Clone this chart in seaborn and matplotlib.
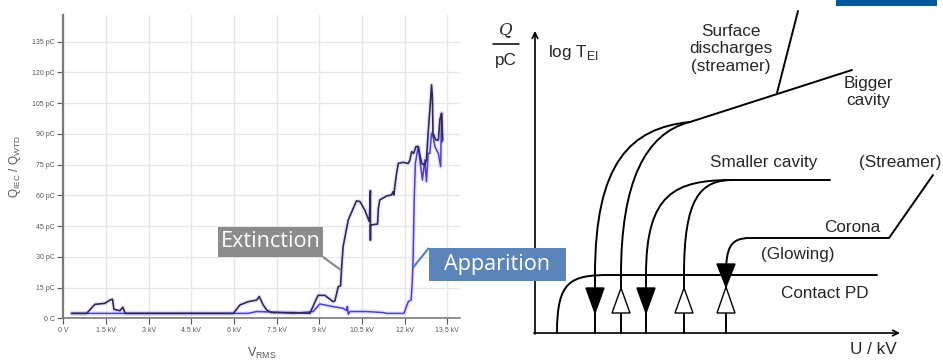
import numpy as np
import pandas as pd
import matplotlib
matplotlib.use("Agg")
import matplotlib.pyplot as plt
import seaborn as sns
from matplotlib.path import Path
from matplotlib.patches import PathPatch, Polygon, Rectangle

# ---------------- data: left chart ----------------
ext_kv = [0.29, 0.82, 1.11, 1.46, 1.64, 1.73, 1.78, 1.99, 2.09, 2.18, 5.98, 6.21, 6.50, 6.80,
          6.89, 7.03, 7.15, 7.32, 8.09, 8.67, 8.91, 8.96, 9.20, 9.49, 9.55, 9.67, 9.75, 9.79,
          9.84, 10.02, 10.31, 10.43, 10.60, 10.76, 10.80, 10.80, 10.80, 10.84, 11.05, 11.08,
          11.13, 11.37, 11.54, 11.60, 11.62, 11.72, 11.78, 11.95, 12.13, 12.19, 12.25, 12.32,
          12.40, 12.48, 12.60, 12.71, 12.77, 12.83, 12.89, 12.95, 12.98, 13.00, 13.10, 13.19,
          13.24, 13.30, 13.34]
ext_pc = [2.4, 2.4, 6.8, 7.3, 8.9, 9.3, 4.4, 3.7, 5.4, 2.4, 2.4, 6.5, 8.1, 8.9,
          10.6, 6.5, 4.1, 2.8, 2.8, 2.4, 9.8, 11.2, 11.2, 8.1, 8.5, 15.5, 15.8, 25.2,
          35.0, 48.0, 57.3, 57.0, 52.9, 47.2, 62.3, 38.2, 45.6, 45.6, 46.0, 53.7,
          57.8, 59.7, 60.2, 61.8, 60.2, 70.8, 75.6, 76.1, 75.6, 77.3, 81.3, 80.5,
          83.8, 83.8, 75.6, 74.8, 77.3, 90.3, 101.7, 113.9, 108.0, 90.3, 87.0, 87.0,
          96.8, 100.0, 87.0]

app_kv = [0.29, 6.50, 6.80, 7.50, 8.09, 8.79, 9.02, 9.20, 9.49, 9.84, 9.96, 9.99, 10.02,
          10.08, 10.66, 11.25, 11.37, 11.98, 12.13, 12.23, 12.27, 12.30, 12.34, 12.38, 12.42,
          12.48, 12.54, 12.63, 12.71, 12.77, 12.83, 12.89, 12.95, 13.00, 13.07, 13.13, 13.19,
          13.27, 13.30, 13.32]
app_pc = [2.4, 2.4, 3.3, 3.0, 2.4, 3.3, 7.0, 6.5, 5.7, 4.9, 3.7, 5.8, 2.0,
          3.3, 3.3, 2.8, 2.4, 2.4, 8.1, 8.9, 17.1, 28.5, 57.8, 75.6, 78.9,
          83.8, 77.3, 67.5, 77.3, 66.7, 80.5, 80.5, 90.3, 88.7, 83.8, 82.0, 80.5,
          74.0, 100.0, 86.0]

x_ticks = [0, 1.5, 3, 4.5, 6, 7.5, 9, 10.5, 12, 13.5]
x_tick_labels = ["0 V", "1.5 kV", "3 kV", "4.5 kV", "6 kV", "7.5 kV", "9 kV",
                 "10.5 kV", "12 kV", "13.5 kV"]
y_ticks = [0, 15, 30, 45, 60, 75, 90, 105, 120, 135]
y_tick_labels = ["0 C", "15 pC", "30 pC", "45 pC", "60 pC", "75 pC", "90 pC",
                 "105 pC", "120 pC", "135 pC"]

# annotation callouts (data units: kV, pC)
callout_labels = ["Extinction", "Apparition"]
callout_box = [(5.44, 29.95, 9.13, 44.6), (12.856, 18.22, 17.672, 34.35)]
callout_corner = [(9.13, 29.95), (12.856, 34.35)]
callout_target = [(9.76, 23.6), (12.29, 24.6)]
callout_colors = ["#8c8c8c", "#5b84b8"]

# ---------------- data: right schematic (diagram units) ----------------
contact_pd = [(22, 0), (22, 52), (35, 58), (75, 58), (342, 58)]
bigger_a = [(60, 0), (60, 58), (60, 170), (95, 205), (155, 211), (317, 263)]
bigger_b = [(86, 0), (86, 58), (86, 150), (110, 200), (155, 211)]
smaller_a = [(111, 0), (111, 58), (111, 140), (140, 153), (198, 153), (295, 153)]
smaller_b = [(149, 0), (149, 58), (149, 135), (165, 153), (198, 153)]
corona = [(191, 0), (191, 58), (191, 85), (195, 95), (215, 95), (354, 95), (398, 158)]
surface = [(242, 240), (263, 322)]
down_arrows_u = [60, 111]
up_arrows_u = [86, 149]
corona_u = 191

sns.set_theme(style="white")
plt.rcParams["font.family"] = ["Liberation Sans", "DejaVu Sans"]

fig = plt.figure(figsize=(9.43, 3.6), dpi=100)

# ================= LEFT CHART =================
ax = fig.add_axes([63.3 / 943, 1 - 318.3 / 360, (460 - 63.3) / 943, (318.3 - 15) / 360])
ax.set_zorder(3)
df_ext = pd.DataFrame({"kv": ext_kv, "pc": ext_pc})
df_app = pd.DataFrame({"kv": app_kv, "pc": app_pc})
for d in (df_ext, df_app):
    sns.lineplot(data=d, x="kv", y="pc", ax=ax, sort=False, estimator=None,
                 color="#9a90ff", lw=3.4, alpha=0.2)
sns.lineplot(data=df_app, x="kv", y="pc", ax=ax, sort=False, estimator=None,
             color="#4b3fd2", lw=1.1)
sns.lineplot(data=df_ext, x="kv", y="pc", ax=ax, sort=False, estimator=None,
             color="#2e2a4c", lw=1.2)

ax.set_xlim(0, 13.95)
ax.set_ylim(0, 148)
ax.set_xticks(x_ticks)
ax.set_xticklabels(x_tick_labels)
ax.set_yticks(y_ticks)
ax.set_yticklabels(y_tick_labels)
ax.grid(True, color="#e6e6e6", lw=1.0)
ax.set_axisbelow(True)
for s in ("top", "right"):
    ax.spines[s].set_visible(False)
ax.spines["left"].set_color("#7a7a7a")
ax.spines["left"].set_linewidth(1.6)
ax.spines["bottom"].set_color("#7a7a7a")
ax.spines["bottom"].set_linewidth(1.2)
ax.tick_params(axis="both", which="major", labelsize=5, colors="#555555",
               length=4, width=0.8, direction="out", pad=2, bottom=True, left=True)
ax.set_xlabel("V$_{\\mathregular{RMS}}$", fontsize=9, color="#555555", labelpad=9)
ax.set_ylabel("Q$_{\\mathregular{IEC}}$ / Q$_{\\mathregular{WTD}}$", fontsize=8.5,
              color="#555555", labelpad=7)

for lab, (x0, y0, x1, y1), (cx, cy), (tx, ty), col in zip(
        callout_labels, callout_box, callout_corner, callout_target, callout_colors):
    ax.plot([cx, tx], [cy, ty], color=col, lw=1.6, clip_on=False, zorder=9,
            solid_capstyle="butt")
    ax.add_patch(Rectangle((x0, y0), x1 - x0, y1 - y0, fc=col, ec="none",
                           clip_on=False, zorder=10))
    ax.text((x0 + x1) / 2, (y0 + y1) / 2, lab, ha="center", va="center",
            fontsize=15.6, color="white", family=["Open Sans", "DejaVu Sans"],
            zorder=11, clip_on=False)

# ================= RIGHT SCHEMATIC =================
ax2 = fig.add_axes([480 / 943, 0, 463 / 943, 1])
ax2.set_zorder(1)
ax2.set_xlim(-55, 408)
ax2.set_ylim(-27, 333)
ax2.axis("off")

LW = 1.4


def draw_path(pts, codes):
    p = Path(pts, codes)
    ax2.add_patch(PathPatch(p, fc="none", ec="black", lw=LW, capstyle="round"))


M, L, C = Path.MOVETO, Path.LINETO, Path.CURVE4
draw_path(contact_pd, [M, C, C, C, L])
draw_path(bigger_a, [M, L, C, C, C, L])
draw_path(bigger_b, [M, L, C, C, C])
draw_path(smaller_a, [M, L, C, C, C, L])
draw_path(smaller_b, [M, L, C, C, C])
draw_path(corona, [M, L, C, C, C, L, L])
draw_path(surface, [M, L])

# axes arrows
ax2.annotate("", xy=(0, 302), xytext=(0, -1),
             arrowprops=dict(arrowstyle="->", lw=1.2, color="black",
                             shrinkA=0, shrinkB=0, mutation_scale=10))
ax2.annotate("", xy=(365, 0), xytext=(-1, 0),
             arrowprops=dict(arrowstyle="->", lw=1.2, color="black",
                             shrinkA=0, shrinkB=0, mutation_scale=10))

hw = 9
for u in down_arrows_u:
    ax2.add_patch(Polygon([(u - hw, 45), (u + hw, 45), (u, 20)], closed=True,
                          fc="black", ec="black", lw=1.0, zorder=4))
for u in up_arrows_u:
    ax2.add_patch(Polygon([(u - hw, 20), (u + hw, 20), (u, 45)], closed=True,
                          fc="white", ec="black", lw=1.0, zorder=4))
ax2.add_patch(Polygon([(corona_u - hw, 69), (corona_u + hw, 69), (corona_u, 46)],
                      closed=True, fc="black", ec="black", lw=1.0, zorder=4))
ax2.add_patch(Polygon([(corona_u - hw, 20), (corona_u + hw, 20), (corona_u, 46)],
                      closed=True, fc="white", ec="black", lw=1.0, zorder=4))

fs = 12.3
ax2.text(-29, 303, "Q", ha="center", va="center", fontsize=12, style="italic",
         family=["DejaVu Serif"])
ax2.plot([-42, -16], [289, 289], color="black", lw=1.1)
ax2.text(-29, 272, "pC", ha="center", va="center", fontsize=fs)
ax2.text(13, 281, "log T$_{\\mathregular{EI}}$", ha="left", va="center", fontsize=fs)
ax2.text(338, -17, "U / kV", ha="center", va="center", fontsize=fs)
ax2.text(196, 284, "Surface\ndischarges\n(streamer)", ha="center", va="center",
         fontsize=fs, linespacing=1.2)
ax2.text(333, 241, "Bigger\ncavity", ha="center", va="center", fontsize=fs,
         linespacing=1.2)
ax2.text(229, 171, "Smaller cavity", ha="center", va="center", fontsize=fs)
ax2.text(365, 171, "(Streamer)", ha="center", va="center", fontsize=fs)
ax2.text(317, 106, "Corona", ha="center", va="center", fontsize=fs)
ax2.text(263, 79, "(Glowing)", ha="center", va="center", fontsize=fs)
ax2.text(290, 39, "Contact PD", ha="center", va="center", fontsize=fs)
ax2.add_patch(Rectangle((301, 327), 101, 8, fc="#00599c", ec="none", clip_on=False))

fig.savefig("out.png", dpi=100)
